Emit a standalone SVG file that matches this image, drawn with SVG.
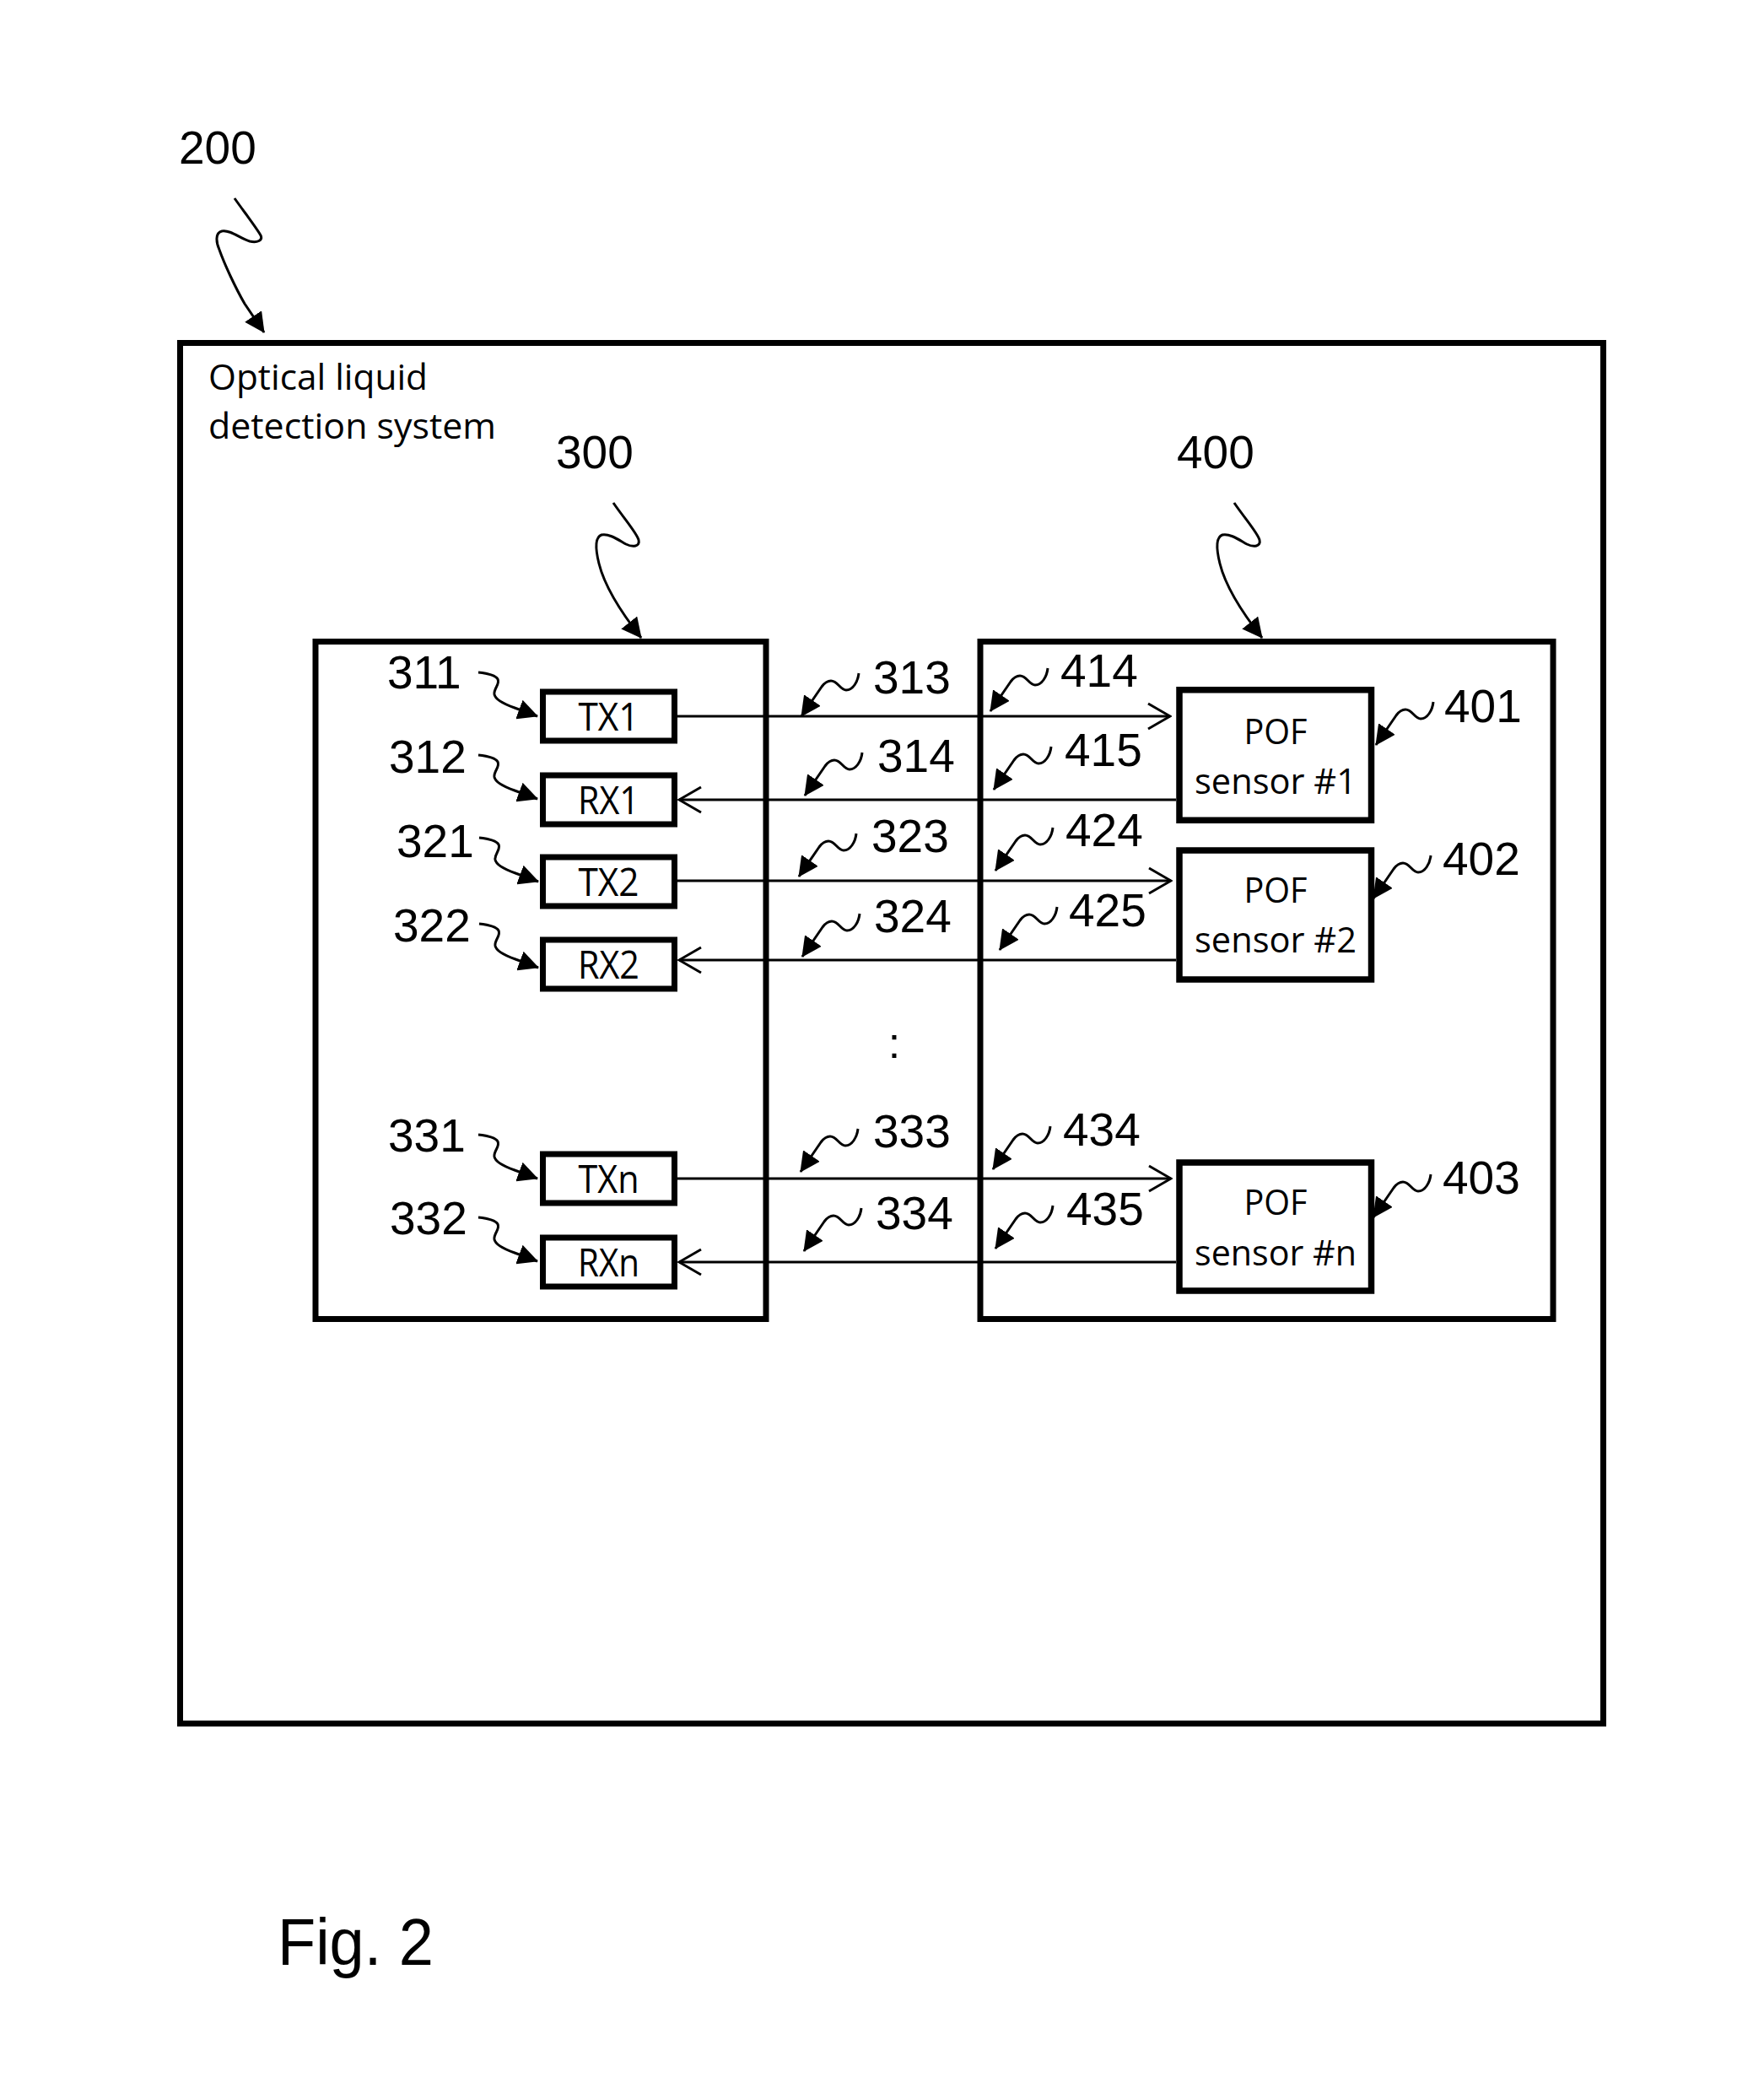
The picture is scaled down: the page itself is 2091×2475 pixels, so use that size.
<svg xmlns="http://www.w3.org/2000/svg" width="2091" height="2475" viewBox="0 0 2091 2475">
<style>
.frame{fill:none;stroke:#000;stroke-width:7}
.sub{fill:#fff;stroke:#000;stroke-width:7}
.pof{fill:#fff;stroke:#000;stroke-width:7.5}
.ln{fill:none;stroke:#000;stroke-width:3}
.sq{fill:none;stroke:#000;stroke-width:3;marker-end:url(#ah)}
.num{font-family:"Liberation Sans",Arial,sans-serif;font-size:55px;fill:#000}
.lab{font-family:"Open Sans","Noto Sans",sans-serif;font-size:42px;fill:#000}
.tx{font-family:"Open Sans","Noto Sans",sans-serif;font-size:45px;fill:#000}
</style>
<defs>
<marker id="ah" viewBox="0 0 24 24" refX="23" refY="12" markerWidth="24" markerHeight="24" markerUnits="userSpaceOnUse" orient="auto">
<path d="M0,0 L24,12 L0,24 z" fill="#000"/>
</marker>
<marker id="oa" viewBox="0 0 30 34" refX="28" refY="17" markerWidth="30" markerHeight="34" markerUnits="userSpaceOnUse" orient="auto">
<path d="M2,2 L28,17 L2,32" fill="none" stroke="#000" stroke-width="3"/>
</marker>
</defs>
<rect width="2091" height="2475" fill="#fff"/>

<g id="n200">
<rect class="frame" x="213.5" y="406.5" width="1687" height="1636.5"/>
<text class="lab" x="247" y="462" textLength="260" lengthAdjust="spacingAndGlyphs">Optical liquid</text>
<text class="lab" x="247" y="520" textLength="341" lengthAdjust="spacingAndGlyphs">detection system</text>
<text class="num" x="212" y="194">200</text>
<path class="sq" d="M278,235 C290,252 304,270 309,279 C312,285 305,288 296,286 C285,283 273,272 263,274 C255,276 256,287 260,296 C266,313 279,341 290,360 L313,394"/>
</g>

<g id="n300">
<rect class="frame" x="374" y="760.5" width="534" height="803"/>
<text class="num" x="659" y="555">300</text>
<path class="sq" d="M727,596 C740,615 755,632 757,640 C759,648 750,649 742,645 C733,640 722,632 713,634 C705,637 706,652 710,668 C718,700 745,737 760,756"/>
</g>

<g id="n400">
<rect class="frame" x="1162" y="760.5" width="679" height="803"/>
<text class="num" x="1395" y="555">400</text>
<path class="sq" d="M1463,596 C1476,615 1491,632 1493,640 C1495,648 1486,649 1478,645 C1469,640 1458,632 1449,634 C1441,637 1442,652 1446,668 C1454,700 1481,737 1496,756"/>
</g>

<g id="n311">
<rect class="sub" x="643.5" y="820" width="156" height="58"/>
<text class="tx" x="721.5" y="866" text-anchor="middle" textLength="72" lengthAdjust="spacingAndGlyphs">TX1</text>
<text class="num" x="459" y="816">311</text>
<path class="sq" d="M567,797 c10,1 20,3 23,8 c3,6 -5,11 -4,18 c1,6 10,11 24,16 l27,10"/>
</g>
<g id="n312">
<rect class="sub" x="643.5" y="919" width="156" height="58"/>
<text class="tx" x="721.5" y="965" text-anchor="middle" textLength="73" lengthAdjust="spacingAndGlyphs">RX1</text>
<text class="num" x="461" y="916">312</text>
<path class="sq" d="M567,895 c10,1 20,3 23,8 c3,6 -5,11 -4,18 c1,6 10,11 24,16 l27,10"/>
</g>
<g id="n321">
<rect class="sub" x="643.5" y="1016" width="156" height="58"/>
<text class="tx" x="721.5" y="1062" text-anchor="middle" textLength="72" lengthAdjust="spacingAndGlyphs">TX2</text>
<text class="num" x="470" y="1016">321</text>
<path class="sq" d="M568,993 c10,1 20,3 23,8 c3,6 -5,11 -4,18 c1,6 10,11 24,16 l27,10"/>
</g>
<g id="n322">
<rect class="sub" x="643.5" y="1114" width="156" height="58"/>
<text class="tx" x="721.5" y="1160" text-anchor="middle" textLength="73" lengthAdjust="spacingAndGlyphs">RX2</text>
<text class="num" x="466" y="1116">322</text>
<path class="sq" d="M568,1095 c10,1 20,3 23,8 c3,6 -5,11 -4,18 c1,6 10,11 24,16 l27,10"/>
</g>
<g id="n331">
<rect class="sub" x="643.5" y="1368" width="156" height="58"/>
<text class="tx" x="721.5" y="1414" text-anchor="middle" textLength="72" lengthAdjust="spacingAndGlyphs">TXn</text>
<text class="num" x="460" y="1365">331</text>
<path class="sq" d="M567,1345 c10,1 20,3 23,8 c3,6 -5,11 -4,18 c1,6 10,11 24,16 l27,10"/>
</g>
<g id="n332">
<rect class="sub" x="643.5" y="1467" width="156" height="58"/>
<text class="tx" x="721.5" y="1513" text-anchor="middle" textLength="73" lengthAdjust="spacingAndGlyphs">RXn</text>
<text class="num" x="462" y="1463">332</text>
<path class="sq" d="M567,1443 c10,1 20,3 23,8 c3,6 -5,11 -4,18 c1,6 10,11 24,16 l27,10"/>
</g>

<g id="n401">
<rect class="pof" x="1398" y="817.75" width="227.5" height="154.5"/>
<text class="lab" x="1512" y="882" text-anchor="middle" textLength="75" lengthAdjust="spacingAndGlyphs">POF</text>
<text class="lab" x="1512" y="941" text-anchor="middle" textLength="192" lengthAdjust="spacingAndGlyphs">sensor #1</text>
<text class="num" x="1712" y="856">401</text>
<path class="sq" d="M1699,832 c-1,10 -7,20 -15,20 c-7,0 -10,-11 -18,-11 c-4,0 -8,3 -11,7 l-24,35"/>
</g>
<g id="n402">
<rect class="pof" x="1398" y="1008" width="227.5" height="153"/>
<text class="lab" x="1512" y="1070" text-anchor="middle" textLength="75" lengthAdjust="spacingAndGlyphs">POF</text>
<text class="lab" x="1512" y="1129" text-anchor="middle" textLength="192" lengthAdjust="spacingAndGlyphs">sensor #2</text>
<text class="num" x="1710" y="1037">402</text>
<path class="sq" d="M1696,1014 c-1,10 -7,20 -15,20 c-7,0 -10,-11 -18,-11 c-4,0 -8,3 -11,7 l-24,35"/>
</g>
<g id="n403">
<rect class="pof" x="1398" y="1378" width="227.5" height="152"/>
<text class="lab" x="1512" y="1440" text-anchor="middle" textLength="75" lengthAdjust="spacingAndGlyphs">POF</text>
<text class="lab" x="1512" y="1500" text-anchor="middle" textLength="192" lengthAdjust="spacingAndGlyphs">sensor #n</text>
<text class="num" x="1710" y="1415">403</text>
<path class="sq" d="M1696,1392 c-1,10 -7,20 -15,20 c-7,0 -10,-11 -18,-11 c-4,0 -8,3 -11,7 l-24,35"/>
</g>

<g id="connectors">
<line class="ln" x1="803" y1="849" x2="1387" y2="849" marker-end="url(#oa)"/>
<line class="ln" x1="1394" y1="948" x2="805" y2="948" marker-end="url(#oa)"/>
<line class="ln" x1="803" y1="1044" x2="1388" y2="1044" marker-end="url(#oa)"/>
<line class="ln" x1="1394" y1="1138" x2="805" y2="1138" marker-end="url(#oa)"/>
<line class="ln" x1="803" y1="1397" x2="1388" y2="1397" marker-end="url(#oa)"/>
<line class="ln" x1="1394" y1="1496" x2="805" y2="1496" marker-end="url(#oa)"/>
</g>

<g id="connector-labels">
<text class="num" x="1035" y="822">313</text>
<path class="sq" d="M1018,798 c-1,10 -7,20 -15,20 c-7,0 -10,-11 -18,-11 c-4,0 -8,3 -11,7 l-24,35"/>
<text class="num" x="1040" y="915">314</text>
<path class="sq" d="M1022,892 c-1,10 -7,20 -15,20 c-7,0 -10,-11 -18,-11 c-4,0 -8,3 -11,7 l-24,35"/>
<text class="num" x="1033" y="1010">323</text>
<path class="sq" d="M1015,988 c-1,10 -7,20 -15,20 c-7,0 -10,-11 -18,-11 c-4,0 -8,3 -11,7 l-24,35"/>
<text class="num" x="1036" y="1105">324</text>
<path class="sq" d="M1019,1083 c-1,10 -7,20 -15,20 c-7,0 -10,-11 -18,-11 c-4,0 -8,3 -11,7 l-24,35"/>
<text class="num" x="1035" y="1360">333</text>
<path class="sq" d="M1017,1338 c-1,10 -7,20 -15,20 c-7,0 -10,-11 -18,-11 c-4,0 -8,3 -11,7 l-24,35"/>
<text class="num" x="1038" y="1457">334</text>
<path class="sq" d="M1021,1432 c-1,10 -7,20 -15,20 c-7,0 -10,-11 -18,-11 c-4,0 -8,3 -11,7 l-24,35"/>
<text class="num" x="1257" y="814">414</text>
<path class="sq" d="M1242,792 c-1,10 -7,20 -15,20 c-7,0 -10,-11 -18,-11 c-4,0 -8,3 -11,7 l-24,35"/>
<text class="num" x="1262" y="908">415</text>
<path class="sq" d="M1246,885 c-1,10 -7,20 -15,20 c-7,0 -10,-11 -18,-11 c-4,0 -8,3 -11,7 l-24,35"/>
<text class="num" x="1263" y="1003">424</text>
<path class="sq" d="M1248,981 c-1,10 -7,20 -15,20 c-7,0 -10,-11 -18,-11 c-4,0 -8,3 -11,7 l-24,35"/>
<text class="num" x="1267" y="1098">425</text>
<path class="sq" d="M1253,1075 c-1,10 -7,20 -15,20 c-7,0 -10,-11 -18,-11 c-4,0 -8,3 -11,7 l-24,35"/>
<text class="num" x="1260" y="1358">434</text>
<path class="sq" d="M1245,1335 c-1,10 -7,20 -15,20 c-7,0 -10,-11 -18,-11 c-4,0 -8,3 -11,7 l-24,35"/>
<text class="num" x="1264" y="1452">435</text>
<path class="sq" d="M1248,1429 c-1,10 -7,20 -15,20 c-7,0 -10,-11 -18,-11 c-4,0 -8,3 -11,7 l-24,35"/>
<text class="num" x="1060" y="1254" text-anchor="middle" style="font-size:52px">:</text>
</g>

<text class="num" x="329" y="2329" style="font-size:77px" textLength="185" lengthAdjust="spacingAndGlyphs">Fig. 2</text>
</svg>
